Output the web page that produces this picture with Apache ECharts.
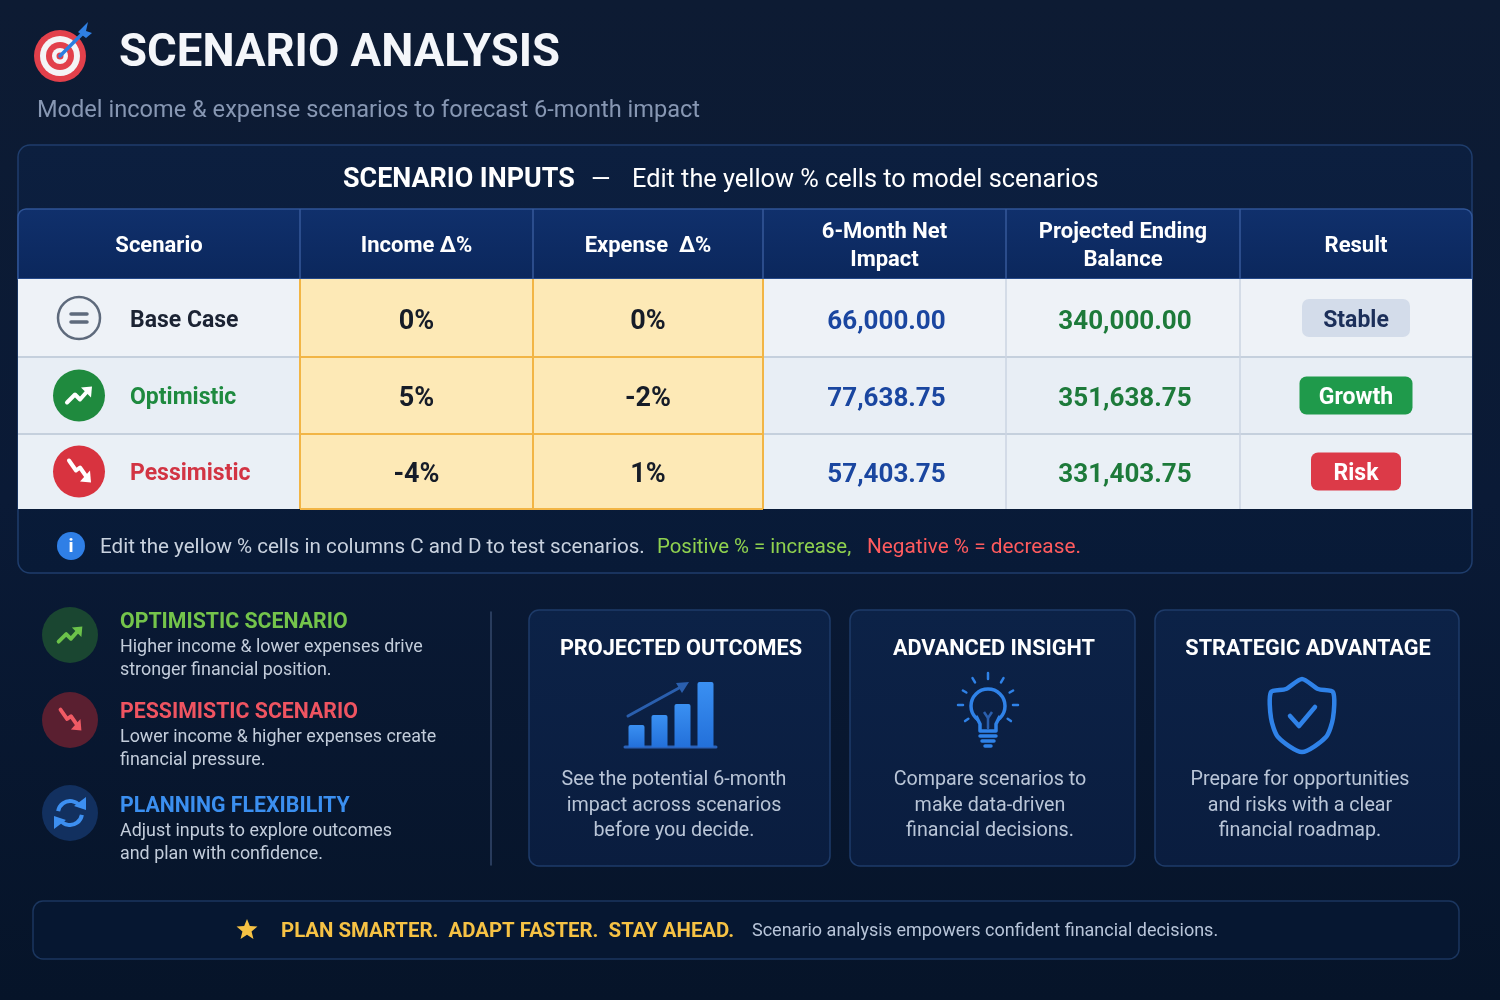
<!DOCTYPE html>
<html><head><meta charset="utf-8">
<script src="https://cdn.jsdelivr.net/npm/echarts@6/dist/echarts.min.js"></script>
<style>html,body{margin:0;padding:0;background:#0a1a33;}#c{width:1500px;height:1000px;}</style>
</head><body><div id="c"></div>
<script>
// ---------------- DATA ----------------
const columnHeaders = ['Scenario', 'Income Δ%', 'Expense  Δ%', '6-Month Net\nImpact', 'Projected Ending\nBalance', 'Result'];
const scenarios = ['Base Case', 'Optimistic', 'Pessimistic'];
const incomeDelta = [0, 5, -4];
const expenseDelta = [0, -2, 1];
const netImpact = [66000, 77638.75, 57403.75];
const endingBalance = [340000, 351638.75, 331403.75];
const results = ['Stable', 'Growth', 'Risk'];
const outcomeIconBars = [22, 32, 43, 65];

// ---------------- LAYOUT / STYLE ----------------
const FONT = 'Roboto';
const TY = 2.5; // vertical text nudge
const COL_EDGES = [0, 282, 515, 745, 988, 1222, 1454];
const ROW_EDGES = [0, 70, 148, 225, 300];
const ROW_STYLE = [
  { bg: '#eef2f7', name: '#1b2333', badgeFill: '#d3dcea', badgeText: '#1c2f5a', badgeW: 108 },
  { bg: '#e8eef5', name: '#1e8a3f', badgeFill: '#1f9a4b', badgeText: '#ffffff', badgeW: 113 },
  { bg: '#eaf0f6', name: '#d23443', badgeFill: '#dc3a48', badgeText: '#ffffff', badgeW: 90 }
];

function fmtMoney(v) { return v.toLocaleString('en-US', { minimumFractionDigits: 2, maximumFractionDigits: 2 }); }

function txt(x, y, text, o) {
  o = o || {};
  return {
    type: 'text', x: x, y: y + TY, silent: true, z: o.z || 10,
    style: {
      text: text, fill: o.fill || '#ffffff', fontFamily: FONT,
      fontSize: o.size || 18, fontWeight: o.weight || 'normal',
      align: o.align || 'left', textAlign: o.align || 'left',
      verticalAlign: 'middle', textVerticalAlign: 'middle',
      lineHeight: o.lh || undefined
    }
  };
}
function starPts(cx, cy, R, r) {
  const p = [];
  for (let k = 0; k < 10; k++) {
    const a = -Math.PI / 2 + k * Math.PI / 5, rad = k % 2 ? r : R;
    p.push([cx + rad * Math.cos(a), cy + rad * Math.sin(a)]);
  }
  return p;
}
function line(x1, y1, x2, y2, color, w, z) {
  return { type: 'line', silent: true, z: z || 10, shape: { x1, y1, x2, y2 }, style: { stroke: color, lineWidth: w || 1, lineCap: 'round' } };
}
function upArrow(cx, cy, color, s) {
  s = s || 1;
  return [
    { type: 'polyline', silent: true, z: 12, shape: { points: [[cx - 12 * s, cy + 7 * s], [cx - 4 * s, cy - 1 * s], [cx + 1 * s, cy + 4 * s], [cx + 9 * s, cy - 5 * s]] }, style: { stroke: color, lineWidth: 4 * s, fill: null, lineJoin: 'round', lineCap: 'round' } },
    { type: 'polygon', silent: true, z: 12, shape: { points: [[cx + 13 * s, cy - 9 * s], [cx + 2 * s, cy - 8 * s], [cx + 12 * s, cy + 2 * s]] }, style: { fill: color } }
  ];
}
function downArrow(cx, cy, color, s) {
  s = s || 1;
  return [
    { type: 'polyline', silent: true, z: 12, shape: { points: [[cx - 10 * s, cy - 11 * s], [cx - 3 * s, cy - 1 * s], [cx + 1 * s, cy - 4 * s], [cx + 8 * s, cy + 6 * s]] }, style: { stroke: color, lineWidth: 4 * s, fill: null, lineJoin: 'round', lineCap: 'round' } },
    { type: 'polygon', silent: true, z: 12, shape: { points: [[cx + 12 * s, cy + 11 * s], [cx + 1 * s, cy + 10 * s], [cx + 11 * s, cy - 1 * s]] }, style: { fill: color } }
  ];
}

// ---------------- TABLE RENDERERS ----------------
function renderHeader(params, api) {
  const ch = [];
  const a = api.coord([COL_EDGES[0], ROW_EDGES[0]]), b = api.coord([COL_EDGES[6], ROW_EDGES[1]]);
  ch.push({ type: 'rect', shape: { x: a[0], y: a[1], width: b[0] - a[0], height: b[1] - a[1], r: [8, 8, 0, 0] },
    style: { fill: { type: 'linear', x: 0, y: 0, x2: 0, y2: 1, colorStops: [{ offset: 0, color: '#10306c' }, { offset: 1, color: '#0b275c' }] }, stroke: '#2f5496', lineWidth: 1.5 } });
  for (let c = 1; c < 6; c++) {
    const p = api.coord([COL_EDGES[c], ROW_EDGES[0]]), q = api.coord([COL_EDGES[c], ROW_EDGES[1]]);
    ch.push({ type: 'line', shape: { x1: p[0], y1: p[1], x2: q[0], y2: q[1] }, style: { stroke: '#36589a', lineWidth: 1.5 } });
  }
  for (let c = 0; c < 6; c++) {
    const p = api.coord([(COL_EDGES[c] + COL_EDGES[c + 1]) / 2, (ROW_EDGES[0] + ROW_EDGES[1]) / 2]);
    ch.push({ type: 'text', style: { text: columnHeaders[c], x: p[0], y: p[1] + 2, fill: '#ffffff', fontFamily: FONT, fontWeight: 'bold', fontSize: 22, lineHeight: 28, align: 'center', textAlign: 'center', verticalAlign: 'middle', textVerticalAlign: 'middle' } });
  }
  return { type: 'group', children: ch };
}

function renderRow(params, api) {
  const i = api.value(0);
  const st = ROW_STYLE[i];
  const top = ROW_EDGES[i + 1], bot = ROW_EDGES[i + 2];
  const ch = [];
  for (let c = 0; c < 6; c++) {
    const a = api.coord([COL_EDGES[c], top]), b = api.coord([COL_EDGES[c + 1], bot]);
    const yellow = (c === 1 || c === 2);
    ch.push({ type: 'rect', shape: { x: a[0], y: a[1], width: b[0] - a[0], height: b[1] - a[1] }, style: { fill: yellow ? '#fde9b6' : st.bg } });
  }
  const lastRow = i === scenarios.length - 1;
  [[0, 1], [3, 6]].forEach(function (rg) {
    if (!lastRow) {
      const p = api.coord([COL_EDGES[rg[0]], bot]), q = api.coord([COL_EDGES[rg[1]], bot]);
      ch.push({ type: 'line', z2: 2, shape: { x1: p[0], y1: p[1], x2: q[0], y2: q[1] }, style: { stroke: '#c5d0dd', lineWidth: 2 } });
    }
  });
  [4, 5].forEach(function (c) {
    const p = api.coord([COL_EDGES[c], top]), q = api.coord([COL_EDGES[c], bot]);
    ch.push({ type: 'line', z2: 2, shape: { x1: p[0], y1: p[1], x2: q[0], y2: q[1] }, style: { stroke: '#cbd5e2', lineWidth: 1.5 } });
  });
  [1, 2, 3].forEach(function (c) {
    const p = api.coord([COL_EDGES[c], top]), q = api.coord([COL_EDGES[c], bot]);
    ch.push({ type: 'line', z2: 3, shape: { x1: p[0], y1: p[1], x2: q[0], y2: q[1] }, style: { stroke: '#f2b545', lineWidth: 2 } });
  });
  [top, bot].forEach(function (yv, k) {
    if (k === 0 && i === 0) return;
    const p = api.coord([COL_EDGES[1], yv]), q = api.coord([COL_EDGES[3], yv]);
    ch.push({ type: 'line', z2: 3, shape: { x1: p[0], y1: p[1], x2: q[0], y2: q[1] }, style: { stroke: '#f2b545', lineWidth: 2 } });
  });
  const cyP = api.coord([0, (top + bot) / 2]);
  const cy = cyP[1];
  const x0 = cyP[0];
  const ix = x0 + 61;
  if (i === 0) {
    ch.push({ type: 'circle', z2: 4, shape: { cx: ix, cy: cy, r: 21 }, style: { fill: 'rgba(0,0,0,0)', stroke: '#5e6a7c', lineWidth: 2.5 } });
    ch.push({ type: 'line', z2: 4, shape: { x1: ix - 8, y1: cy - 4, x2: ix + 8, y2: cy - 4 }, style: { stroke: '#5e6a7c', lineWidth: 3.5, lineCap: 'round' } });
    ch.push({ type: 'line', z2: 4, shape: { x1: ix - 8, y1: cy + 4, x2: ix + 8, y2: cy + 4 }, style: { stroke: '#5e6a7c', lineWidth: 3.5, lineCap: 'round' } });
  } else {
    ch.push({ type: 'circle', z2: 4, shape: { cx: ix, cy: cy, r: 26 }, style: { fill: i === 1 ? '#1f8a3e' : '#d8333f' } });
    const arr = i === 1 ? upArrow(ix, cy, '#ffffff', 1) : downArrow(ix, cy, '#ffffff', 1);
    arr.forEach(function (e) { e.z2 = 5; delete e.z; delete e.silent; ch.push(e); });
  }
  ch.push({ type: 'text', z2: 5, style: { text: scenarios[i], x: x0 + 112, y: cy + 3, fill: st.name, fontFamily: FONT, fontWeight: 'bold', fontSize: 23, align: 'left', textAlign: 'left', verticalAlign: 'middle', textVerticalAlign: 'middle' } });
  const vals = [null, api.value(1) + '%', api.value(2) + '%', fmtMoney(api.value(3)), fmtMoney(api.value(4)), results[i]];
  const colors = [null, '#161c28', '#161c28', '#1a46a0', '#1d7a3a'];
  for (let c = 1; c <= 4; c++) {
    const p = api.coord([(COL_EDGES[c] + COL_EDGES[c + 1]) / 2, (top + bot) / 2]);
    ch.push({ type: 'text', z2: 5, style: { text: vals[c], x: p[0] + (c >= 3 ? 2 : 0), y: p[1] + 4, fill: colors[c], fontFamily: FONT, fontWeight: 'bold', fontSize: c >= 3 ? 26 : 27, align: 'center', textAlign: 'center', verticalAlign: 'middle', textVerticalAlign: 'middle' } });
  }
  const pr = api.coord([(COL_EDGES[5] + COL_EDGES[6]) / 2, (top + bot) / 2]);
  ch.push({ type: 'rect', z2: 4, shape: { x: pr[0] - st.badgeW / 2, y: pr[1] - 19, width: st.badgeW, height: 38, r: 7 }, style: { fill: st.badgeFill } });
  ch.push({ type: 'text', z2: 5, style: { text: vals[5], x: pr[0], y: pr[1] + 3, fill: st.badgeText, fontFamily: FONT, fontWeight: 'bold', fontSize: 23, align: 'center', textAlign: 'center', verticalAlign: 'middle', textVerticalAlign: 'middle' } });
  return { type: 'group', children: ch };
}

// ---------------- DECORATIVE GRAPHICS ----------------
const G = [];
G.push({ type: 'rect', z: 0, silent: true, shape: { x: 0, y: 0, width: 1500, height: 1000 },
  style: { fill: { type: 'linear', x: 0, y: 0, x2: 0, y2: 1, colorStops: [{ offset: 0, color: '#0d1b33' }, { offset: 0.5, color: '#0a1a36' }, { offset: 1, color: '#061429' }] } } });
[[26, '#e2404b'], [20, '#f4f4f6'], [14, '#e2404b'], [8, '#f4f4f6'], [3.5, '#e2404b']].forEach(function (r) {
  G.push({ type: 'circle', z: 5, silent: true, shape: { cx: 60, cy: 56, r: r[0] }, style: { fill: r[1] } });
});
G.push(line(60, 56, 82, 34, '#2b7de0', 3.5, 6));
G.push({ type: 'polygon', z: 6, silent: true, shape: { points: [[78, 32], [84, 26], [88, 22], [86, 31], [92, 33], [86, 38]] }, style: { fill: '#2f80e4' } });
G.push(txt(119, 52, 'SCENARIO ANALYSIS', { size: 45.5, weight: 'bold', fill: '#f4f6fa' }));
G.push(txt(37, 109, 'Model income & expense scenarios to forecast 6-month impact', { size: 23.6, fill: '#8797b3' }));
G.push({ type: 'rect', z: 1, silent: true, shape: { x: 18, y: 145, width: 1454, height: 428, r: 12 },
  style: { fill: { type: 'linear', x: 0, y: 0, x2: 0, y2: 1, colorStops: [{ offset: 0, color: '#0c1f3f' }, { offset: 1, color: '#081a37' }] }, stroke: '#1f3d6c', lineWidth: 1.5 } });
G.push(txt(343, 178, 'SCENARIO INPUTS', { size: 26.9, weight: 'bold', fill: '#ffffff' }));
G.push(txt(591, 178, '—', { size: 25, fill: '#ffffff' }));
G.push(txt(632, 178, 'Edit the yellow % cells to model scenarios', { size: 25.3, fill: '#ffffff' }));
G.push({ type: 'circle', z: 5, silent: true, shape: { cx: 71, cy: 546, r: 14 }, style: { fill: '#2f7fe6' } });
G.push(txt(71, 545, 'i', { size: 19, weight: 'bold', fill: '#ffffff', align: 'center' }));
G.push(txt(100, 545, 'Edit the yellow % cells in columns C and D to test scenarios.', { size: 20.6, fill: '#c9d2df' }));
G.push(txt(657, 545, 'Positive % = increase,', { size: 20.4, fill: '#8fd14f' }));
G.push(txt(867, 545, 'Negative % = decrease.', { size: 20.8, fill: '#ff5b5e' }));

const feats = [
  { y: 620, cy: 635, bg: '#1a4631', col: '#74c44b', head: 'OPTIMISTIC SCENARIO', l1: 'Higher income & lower expenses drive', l2: 'stronger financial position.' },
  { y: 710, cy: 720, bg: '#5a1f30', col: '#ef5461', head: 'PESSIMISTIC SCENARIO', l1: 'Lower income & higher expenses create', l2: 'financial pressure.' },
  { y: 804, cy: 813, bg: '#12305f', col: '#3b8ff0', head: 'PLANNING FLEXIBILITY', l1: 'Adjust inputs to explore outcomes', l2: 'and plan with confidence.' }
];
feats.forEach(function (f) {
  G.push({ type: 'circle', z: 5, silent: true, shape: { cx: 70, cy: f.cy, r: 28 }, style: { fill: f.bg } });
  G.push(txt(120, f.y, f.head, { size: 21.3, weight: 'bold', fill: f.col }));
  G.push(txt(120, f.y + 25, f.l1, { size: 17.9, fill: '#c3cddb' }));
  G.push(txt(120, f.y + 48, f.l2, { size: 17.9, fill: '#c3cddb' }));
});
upArrow(70, 635, '#6cc24a', 0.95).forEach(function (e) { G.push(e); });
downArrow(70, 720, '#f05a64', 0.95).forEach(function (e) { G.push(e); });
G.push({ type: 'arc', z: 12, silent: true, shape: { cx: 70, cy: 813, r: 12, startAngle: Math.PI * 1.05, endAngle: Math.PI * 1.8, clockwise: true }, style: { stroke: '#3d8ff0', lineWidth: 4, fill: null } });
G.push({ type: 'arc', z: 12, silent: true, shape: { cx: 70, cy: 813, r: 12, startAngle: Math.PI * 0.05, endAngle: Math.PI * 0.8, clockwise: true }, style: { stroke: '#3d8ff0', lineWidth: 4, fill: null } });
G.push({ type: 'polygon', z: 12, silent: true, shape: { points: [[86, 797], [86, 810], [74, 806]] }, style: { fill: '#3d8ff0' } });
G.push({ type: 'polygon', z: 12, silent: true, shape: { points: [[54, 829], [54, 816], [66, 820]] }, style: { fill: '#3d8ff0' } });
G.push(line(491, 612, 491, 865, '#34496c', 1.5, 3));

const cards = [
  { x: 529, w: 301, tx: 681, bx: 674, title: 'PROJECTED OUTCOMES', lines: ['See the potential 6-month', 'impact across scenarios', 'before you decide.'] },
  { x: 850, w: 285, tx: 994, bx: 990, title: 'ADVANCED INSIGHT', lines: ['Compare scenarios to', 'make data-driven', 'financial decisions.'] },
  { x: 1155, w: 304, tx: 1308, bx: 1300, title: 'STRATEGIC ADVANTAGE', lines: ['Prepare for opportunities', 'and risks with a clear', 'financial roadmap.'] }
];
cards.forEach(function (c) {
  G.push({ type: 'rect', z: 2, silent: true, shape: { x: c.x, y: 610, width: c.w, height: 256, r: 10 },
    style: { fill: { type: 'linear', x: 0, y: 0, x2: 0, y2: 1, colorStops: [{ offset: 0, color: '#0c2247' }, { offset: 1, color: '#0a1d3f' }] }, stroke: '#1e3b69', lineWidth: 1.5 } });
  G.push(txt(c.tx, 647, c.title, { size: 21.7, weight: 'bold', fill: '#ffffff', align: 'center' }));
  c.lines.forEach(function (l, k) { G.push(txt(c.bx, 778 + k * 25.5, l, { size: 19.7, fill: '#b9c5d7', align: 'center' })); });
});
G.push(line(625, 747, 716, 747, '#2a62ba', 3, 6));
G.push(line(628, 716, 679, 688, '#2a5fae', 3, 6));
G.push({ type: 'polygon', z: 6, silent: true, shape: { points: [[689, 682], [676, 683], [682, 693]] }, style: { fill: '#2a5fae' } });
const BC = '#2f82e8';
G.push({ type: 'circle', z: 6, silent: true, shape: { cx: 988, cy: 706, r: 17 }, style: { fill: null, stroke: BC, lineWidth: 3.5 } });
G.push({ type: 'rect', z: 7, silent: true, shape: { x: 979, y: 718, width: 18, height: 12 }, style: { fill: '#0b2146' } });
G.push({ type: 'polyline', z: 7, silent: true, shape: { points: [[976, 716], [980, 724], [980, 731], [996, 731], [996, 724], [1000, 716]] }, style: { stroke: BC, lineWidth: 3.5, fill: null, lineJoin: 'round' } });
G.push(line(980, 736, 996, 736, BC, 3.5, 7));
G.push(line(982, 741, 994, 741, BC, 3.5, 7));
G.push(line(985, 746, 991, 746, BC, 3.5, 7));
G.push({ type: 'polyline', z: 7, silent: true, shape: { points: [[984, 712], [988, 718], [992, 712]] }, style: { stroke: '#2a5fae', lineWidth: 2.5, fill: null } });
G.push(line(988, 718, 988, 728, '#2a5fae', 2.5, 7));
[[-90, 26, 32], [-60, 26, 31], [-120, 26, 31], [-30, 25, 29], [-150, 25, 29], [0, 25, 30], [180, 25, 30], [35, 24, 28], [145, 24, 28]].forEach(function (r) {
  const a = r[0] * Math.PI / 180;
  G.push(line(988 + r[1] * Math.cos(a), 705 + r[1] * Math.sin(a), 988 + r[2] * Math.cos(a), 705 + r[2] * Math.sin(a), BC, 2.5, 7));
});
G.push({ type: 'polygon', z: 6, silent: true, shape: { smooth: 0.25, points: [[1302, 679], [1318, 689], [1333, 692], [1333, 718], [1326, 737], [1302, 752], [1278, 737], [1271, 718], [1271, 692], [1286, 689]] }, style: { fill: null, stroke: '#2f82e8', lineWidth: 4.5, lineJoin: 'round' } });
G.push({ type: 'polyline', z: 7, silent: true, shape: { points: [[1290, 716], [1299, 726], [1315, 707]] }, style: { stroke: '#2f82e8', lineWidth: 4.5, fill: null, lineCap: 'round', lineJoin: 'round' } });

G.push({ type: 'rect', z: 2, silent: true, shape: { x: 33, y: 901, width: 1426, height: 58, r: 10 }, style: { fill: '#061731', stroke: '#1b365f', lineWidth: 1.5 } });
G.push({ type: 'polygon', z: 6, silent: true, shape: { points: starPts(247, 930, 11, 4.8) }, style: { fill: '#f6c244' } });
G.push(txt(281, 929, 'PLAN SMARTER.  ADAPT FASTER.  STAY AHEAD.', { size: 20.4, weight: 'bold', fill: '#f6c244' }));
G.push(txt(752, 929, 'Scenario analysis empowers confident financial decisions.', { size: 18, fill: '#b8c5d9' }));

// ---------------- OPTION ----------------
const rowData = scenarios.map(function (s, i) { return [i, incomeDelta[i], expenseDelta[i], netImpact[i], endingBalance[i]]; });

const option = {
  backgroundColor: 'transparent',
  animation: false,
  graphic: { elements: G },
  grid: [
    { left: 18, top: 209, width: 1454, height: 300 },
    { left: 625, top: 682, width: 92, height: 65 }
  ],
  xAxis: [
    { gridIndex: 0, type: 'value', min: 0, max: 1454, show: false },
    { gridIndex: 1, type: 'category', data: outcomeIconBars.map(function (v, i) { return 'b' + i; }), show: false }
  ],
  yAxis: [
    { gridIndex: 0, type: 'value', min: 0, max: 300, inverse: true, show: false },
    { gridIndex: 1, type: 'value', min: 0, max: 65, show: false }
  ],
  series: [
    { type: 'custom', xAxisIndex: 0, yAxisIndex: 0, z: 20, silent: true, clip: false, renderItem: renderHeader, data: [[0, 0]] },
    { type: 'custom', xAxisIndex: 0, yAxisIndex: 0, z: 20, silent: true, clip: false, renderItem: renderRow,
      dimensions: ['row', 'income', 'expense', 'net', 'balance'], encode: { x: 0, y: 0 }, data: rowData },
    { type: 'bar', xAxisIndex: 1, yAxisIndex: 1, z: 20, silent: true, barWidth: 16, data: outcomeIconBars,
      itemStyle: { color: { type: 'linear', x: 0, y: 0, x2: 0, y2: 1, colorStops: [{ offset: 0, color: '#3a90f2' }, { offset: 1, color: '#2370da' }] }, borderRadius: [2, 2, 0, 0] } }
  ]
};
const chart = echarts.init(document.getElementById('c'), null, { renderer: 'canvas', width: 1500, height: 1000 });
chart.setOption(option);
</script>
</body></html>
